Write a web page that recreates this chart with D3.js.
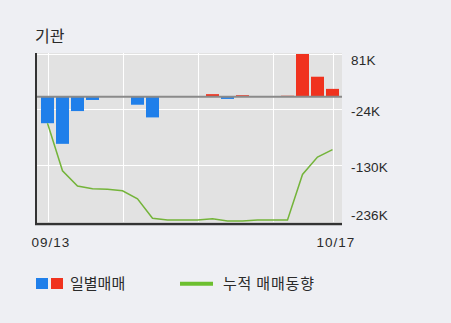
<!DOCTYPE html>
<html><head><meta charset="utf-8">
<script src="https://cdn.jsdelivr.net/npm/d3@7"></script>
<style>
html,body{margin:0;padding:0;background:#eeeff3;}
svg{display:block;}
text{font-family:"Liberation Sans",Arial,"Noto Sans CJK KR",sans-serif;fill:#2a2a2a;}
.kr{font-family:"Noto Sans CJK KR","Liberation Sans",sans-serif;}
</style></head>
<body>
<script>
// Data (values in thousands of shares)
const dates = ["09/13","09/14","09/17","09/18","09/19","09/20","09/21","09/27","09/28","10/01",
               "10/02","10/04","10/05","10/08","10/10","10/11","10/12","10/15","10/16","10/17"];
const daily = [-50,-89,-27,-6,0,0,-15,-39,0,0,0,5,-4,3,0,0,2,81,38,15];
const cumulative = [-50,-140,-169,-174,-175,-178,-193,-230,-233,-233,-233,-231,-235,-235,-233,-233,-233,-147,-114,-100];
const yTicks = [81,-24,-130,-236];
const xLabels = ["09/13","10/17"];
const gridIdx = [0,5,10,15,19];

const W=451,H=323;
const L=36,R=342,T=53,B=223;
const svg=d3.select("body").append("svg").attr("width",W).attr("height",H);

const x=d3.scaleBand().domain(d3.range(dates.length)).range([40,340]).paddingInner(2/15).paddingOuter(1/15);
const y=d3.scaleLinear().domain([-236,81]).range([221.5,54]);

// plot background
svg.append("rect").attr("x",L).attr("y",T).attr("width",R-L).attr("height",B-T).attr("fill","#e2e2e2");

// gridlines
svg.selectAll(".hg").data(yTicks).enter().append("line")
  .attr("x1",L).attr("x2",R).attr("y1",d=>Math.round(y(d))+0.5).attr("y2",d=>Math.round(y(d))+0.5)
  .attr("stroke","#ffffff").attr("stroke-width",1);
svg.selectAll(".vg").data(gridIdx).enter().append("line")
  .attr("x1",d=>Math.round(x(d)+x.bandwidth()/2)+0.5).attr("x2",d=>Math.round(x(d)+x.bandwidth()/2)+0.5)
  .attr("y1",T).attr("y2",B).attr("stroke","#ffffff").attr("stroke-width",1);

// bars
svg.selectAll(".bar").data(daily.map((v,i)=>({v,i})).filter(d=>d.v!==0)).enter().append("rect")
  .attr("x",d=>x(d.i)).attr("width",x.bandwidth())
  .attr("y",d=>y(Math.max(0,d.v))).attr("height",d=>Math.abs(y(d.v)-y(0)))
  .attr("fill",d=>d.v>0?"#f0321e":"#1f7fea");

// zero line
svg.append("line").attr("x1",L).attr("x2",R).attr("y1",y(0)).attr("y2",y(0))
  .attr("stroke","#8a8a8a").attr("stroke-width",2);

// cumulative line
const line=d3.line().x((d,i)=>x(i)+x.bandwidth()/2).y(d=>y(d));
svg.append("path").datum(cumulative).attr("d",line).attr("fill","none")
  .attr("stroke","#74b43a").attr("stroke-width",1.5);

// axes
svg.append("line").attr("x1",L).attr("x2",L).attr("y1",T).attr("y2",B+2).attr("stroke","#333").attr("stroke-width",2);
svg.append("line").attr("x1",L-1).attr("x2",R).attr("y1",B+1).attr("y2",B+1).attr("stroke","#333").attr("stroke-width",2.5);

// y tick labels
svg.selectAll(".yl").data(yTicks).enter().append("text")
  .attr("x",351).attr("y",d=>Math.max(60,Math.min(215,y(d)+2)))
  .attr("dy","0.36em").attr("font-size",13.5).attr("letter-spacing","0.2")
  .text(d=>d+"K");

// x labels
const xLabIdx=[0,dates.length-1];
svg.selectAll(".xl").data(xLabels).enter().append("text")
  .attr("x",(d,k)=>x(xLabIdx[k])+x.bandwidth()/2+3.5).attr("y",242)
  .attr("dy","0.36em").attr("text-anchor","middle").attr("font-size",13.5).attr("letter-spacing","1")
  .text(d=>d);

// title
svg.append("text").attr("class","kr").attr("x",35).attr("y",36).attr("dy","0.36em")
  .attr("font-size",16).text("기관");

// legend
svg.append("rect").attr("x",36).attr("y",278).attr("width",12).attr("height",11).attr("fill","#1f7fea");
svg.append("rect").attr("x",51).attr("y",278).attr("width",12).attr("height",11).attr("fill","#f0321e");
svg.append("text").attr("class","kr").attr("x",70).attr("y",283.5).attr("dy","0.36em").attr("font-size",15).text("일별매매");
svg.append("line").attr("x1",180).attr("x2",213).attr("y1",283.7).attr("y2",283.7).attr("stroke","#6cbf2f").attr("stroke-width",4);
svg.append("text").attr("class","kr").attr("x",223).attr("y",283.5).attr("dy","0.36em").attr("font-size",15).attr("letter-spacing","0.8").text("누적 매매동향");
</script>
</body></html>
